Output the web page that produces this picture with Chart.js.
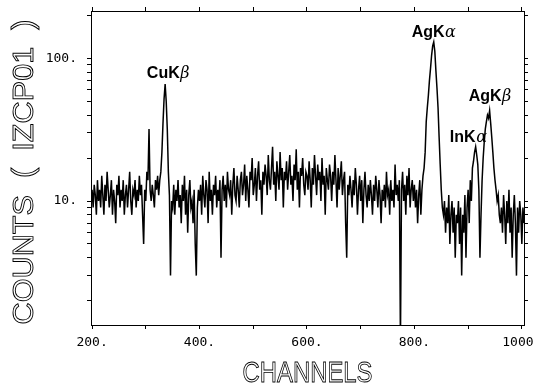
<!DOCTYPE html>
<html>
<head>
<meta charset="utf-8">
<script src="https://cdn.jsdelivr.net/npm/chart.js@4.4.1/dist/chart.umd.min.js"></script>
<style>
html,body{margin:0;padding:0;background:#fff;}
canvas{display:block;}
</style>
</head>
<body>
<canvas id="c" width="534" height="383"></canvas>
<script>
// ---- data ----
const channelStart = 200;
const channelStep = 2;
const counts = [
  12, 9, 13, 11, 8, 14, 10, 12, 9, 15, 11, 8, 13, 10, 16, 12, 9, 11, 14, 8,
  12, 10, 7, 13, 11, 15, 9, 12, 10, 14, 8, 11, 13, 9, 12, 16, 10, 8, 12, 11,
  14, 9, 12, 10, 15, 11, 13, 8, 5, 12, 10, 16, 14, 32, 12, 10, 13, 11, 9, 14,
  12, 15, 11, 14, 16, 22, 35, 52, 66, 50, 32, 16, 11, 3, 10, 9, 13, 8, 12, 10,
  14, 9, 11, 7, 13, 10, 15, 8, 12, 6, 11, 14, 9, 10, 7, 12, 5, 3, 9, 12,
  10, 13, 8, 15, 11, 9, 14, 12, 7, 16, 10, 12, 8, 13, 11, 15, 9, 12, 10, 14,
  4, 12, 15, 10, 13, 9, 16, 12, 11, 14, 8, 13, 17, 11, 10, 15, 12, 9, 14, 16,
  11, 13, 18, 10, 15, 12, 9, 16, 14, 20, 11, 13, 17, 10, 15, 19, 12, 14, 8, 16,
  13, 18, 15, 11, 21, 14, 12, 17, 24, 13, 16, 10, 19, 15, 12, 22, 14, 17, 9, 16,
  14, 19, 12, 16, 21, 13, 15, 10, 18, 14, 23, 12, 16, 9, 17, 15, 20, 13, 11, 16,
  15, 12, 19, 14, 9, 17, 13, 21, 15, 11, 18, 14, 16, 10, 20, 13, 15, 8, 17, 14,
  12, 18, 15, 10, 16, 13, 21, 14, 9, 17, 12, 15, 19, 11, 14, 16, 7, 4, 13, 11,
  15, 12, 9, 14, 11, 17, 13, 8, 12, 15, 10, 14, 7, 12, 16, 11, 9, 13, 10, 14,
  11, 8, 13, 10, 15, 12, 9, 14, 11, 7, 12, 10, 13, 9, 16, 11, 12, 8, 14, 10,
  12, 9, 18, 11, 13, 10, 14, 1, 12, 16, 10, 13, 8, 15, 11, 17, 9, 12, 14, 10,
  13, 9, 12, 7, 11, 14, 8, 12, 15, 17, 22, 36, 45, 55, 70, 85, 105, 122, 130, 112,
  82, 62, 45, 28, 18, 12, 9, 8, 10, 6, 9, 7, 11, 5, 8, 10, 6, 9, 4, 8,
  7, 10, 5, 9, 3, 8, 6, 11, 4, 9, 12, 7, 14, 10, 17, 19, 22, 24, 21, 18,
  12, 4, 8, 14, 20, 26, 32, 36, 40, 38, 43, 35, 28, 22, 17, 14, 12, 10, 11, 8,
  7, 9, 6, 11, 8, 5, 10, 7, 12, 6, 9, 4, 8, 11, 7, 3, 9, 6, 10, 8,
  5, 9, 7, 3
];
const channels = counts.map((_, i) => channelStart + channelStep * i);

const xTicks = [200, 300, 400, 500, 600, 700, 800, 900, 1000];
const xLabelTicks = [200, 400, 600, 800, 1000];
const yTicks = [2, 3, 4, 5, 6, 7, 8, 9, 10, 20, 30, 40, 50, 60, 70, 80, 90, 100, 200];
const yLabelTicks = [10, 100];

const peakNames = ['CuK', 'AgK', 'InK', 'AgK'];
const peakGreek = ['\u03B2', '\u03B1', '\u03B1', '\u03B2'];
const peakLabelChannel = [302, 795, 866, 901];
const peakLabelCounts = [72.8, 141, 25.9, 50.2];

const xTitle = 'CHANNELS';
const yTitle = 'COUNTS  (  IZCP01  )';

// ---- chart ----
const points = channels.map((c, i) => ({x: c, y: counts[i]}));

function fixedBox(size, horizontal) {
  return function (scale) {
    if (horizontal) scale.height = size; else scale.width = size;
    scale.paddingLeft = 0; scale.paddingRight = 0;
    scale.paddingTop = 0; scale.paddingBottom = 0;
  };
}
const setXTicks = s => { s.ticks = xTicks.map(v => ({value: v})); };
const setYTicks = s => { s.ticks = yTicks.map(v => ({value: v})); };

const tickFont = {family: '"DejaVu Sans Mono"', size: 13};
const gridCommon = {drawOnChartArea: false, drawTicks: true, tickLength: 4, color: '#000', lineWidth: 1};
const borderCommon = {display: true, color: '#000', width: 1};

const decor = {
  id: 'decor',
  afterDraw(chart) {
    const ctx = chart.ctx;
    const xs = chart.scales.x, ys = chart.scales.y;
    // peak annotations
    ctx.save();
    ctx.fillStyle = '#000';
    ctx.textAlign = 'left';
    ctx.textBaseline = 'alphabetic';
    for (let i = 0; i < peakNames.length; i++) {
      const px = xs.getPixelForValue(peakLabelChannel[i]);
      const py = ys.getPixelForValue(peakLabelCounts[i]);
      ctx.font = 'bold 16px "Liberation Sans"';
      ctx.fillText(peakNames[i], px, py);
      const w = ctx.measureText(peakNames[i]).width;
      ctx.font = 'italic 16px "DejaVu Serif"';
      ctx.fillText(peakGreek[i], px + w + 0.5, py);
    }
    ctx.restore();
    // axis titles (outline style)
    ctx.save();
    ctx.strokeStyle = '#000';
    ctx.lineWidth = 0.9;
    ctx.font = '30px "Liberation Sans"';
    ctx.textAlign = 'center';
    ctx.textBaseline = 'alphabetic';
    let w = ctx.measureText(xTitle).width;
    ctx.translate((chart.chartArea.left + chart.chartArea.right) / 2, 381.5);
    ctx.scale(130 / w, 1);
    ctx.strokeText(xTitle, 0, 0);
    ctx.restore();

    ctx.save();
    ctx.strokeStyle = '#000';
    ctx.lineWidth = 0.9;
    ctx.font = '29px "Liberation Sans"';
    ctx.textAlign = 'center';
    ctx.textBaseline = 'alphabetic';
    w = ctx.measureText(yTitle).width;
    ctx.translate(33, 172);
    ctx.rotate(-Math.PI / 2);
    ctx.scale(305 / w, 1);
    ctx.strokeText(yTitle, 0, 0);
    ctx.restore();
  }
};

new Chart(document.getElementById('c'), {
  type: 'line',
  data: {
    datasets: [{
      data: points,
      borderColor: '#000',
      borderWidth: 1.5,
      pointRadius: 0,
      tension: 0,
      fill: false
    }]
  },
  options: {
    responsive: false,
    animation: false,
    devicePixelRatio: 1,
    layout: {padding: 0},
    plugins: {legend: {display: false}, tooltip: {enabled: false}},
    scales: {
      x: {
        type: 'linear', position: 'bottom', min: 198, max: 1004,
        afterBuildTicks: setXTicks,
        afterFit: fixedBox(58, true),
        grid: gridCommon, border: borderCommon,
        ticks: {
          autoSkip: false, maxRotation: 0, padding: 6, color: '#000', font: tickFont,
          callback: v => xLabelTicks.includes(v) ? v + '.' : ''
        }
      },
      x2: {
        type: 'linear', position: 'top', min: 198, max: 1004,
        afterBuildTicks: setXTicks,
        afterFit: fixedBox(11, true),
        grid: gridCommon, border: borderCommon,
        ticks: {display: false}
      },
      y: {
        type: 'logarithmic', position: 'left', min: 1.352, max: 214.6,
        afterBuildTicks: setYTicks,
        afterFit: fixedBox(91, false),
        grid: gridCommon, border: borderCommon,
        ticks: {
          autoSkip: false, padding: 10, color: '#000', font: tickFont,
          callback: v => yLabelTicks.includes(v) ? v + '.' : ''
        }
      },
      y2: {
        type: 'logarithmic', position: 'right', min: 1.352, max: 214.6,
        afterBuildTicks: setYTicks,
        afterFit: fixedBox(10, false),
        grid: gridCommon, border: borderCommon,
        ticks: {display: false}
      }
    }
  },
  plugins: [decor]
});
</script>
</body>
</html>
